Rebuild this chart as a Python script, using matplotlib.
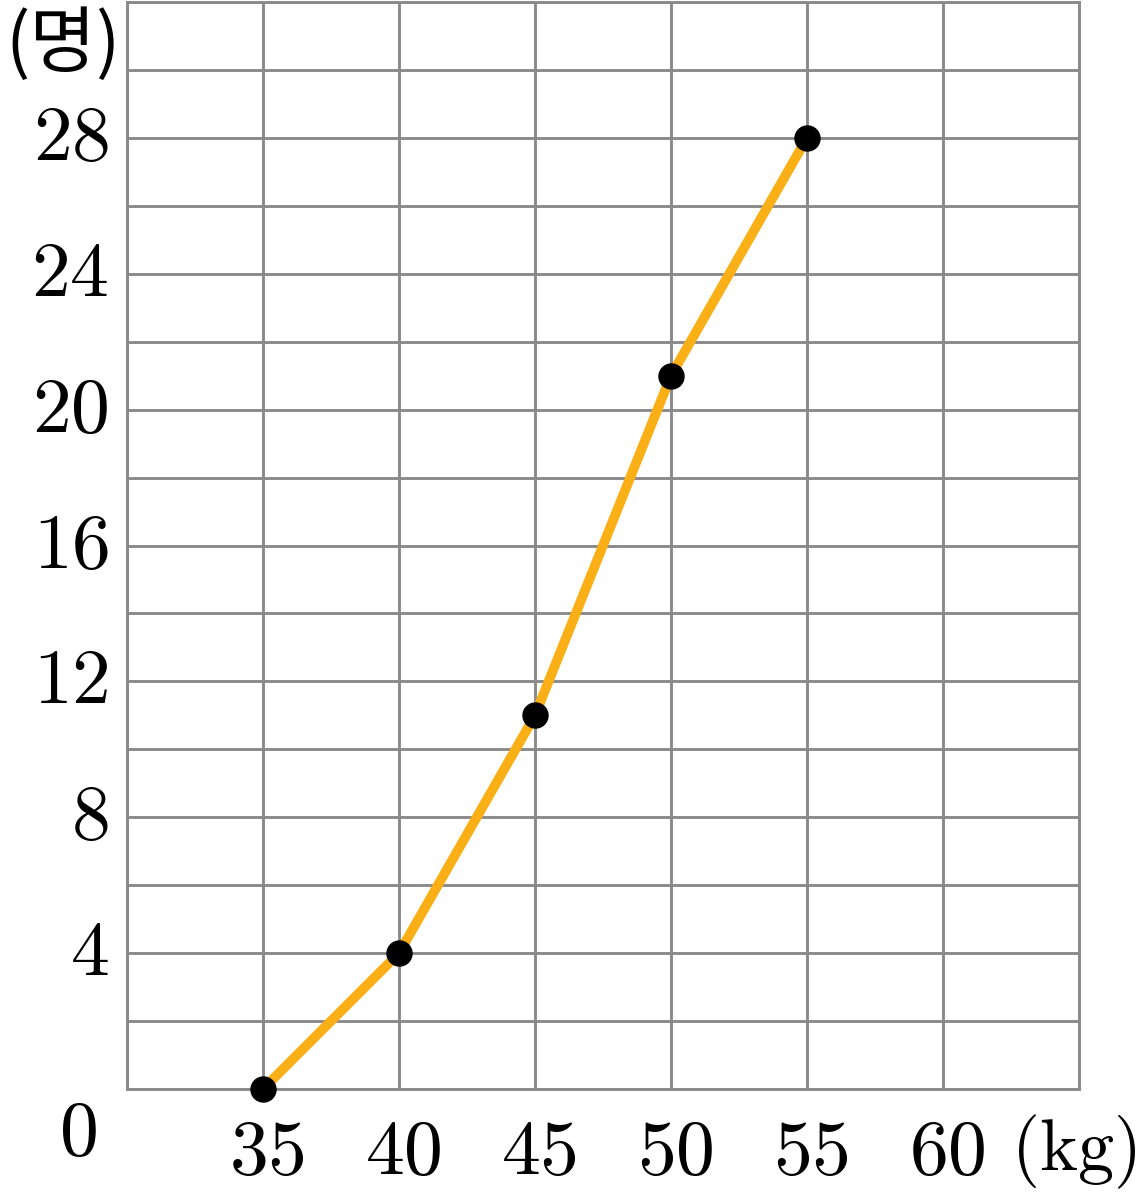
import numpy as np
import matplotlib.pyplot as plt

plt.rcParams['mathtext.fontset'] = 'cm'

weights = [35, 40, 45, 50, 55]
counts = [0, 4, 11, 21, 28]

x_labels = [35, 40, 45, 50, 55, 60]
y_labels = [4, 8, 12, 16, 20, 24, 28]

grid_color = '#8a8a8a'
line_color = '#fbaf17'

fig = plt.figure(figsize=(11.39, 12.01), dpi=100)
ax = fig.add_axes([127 / 1139, (1201 - 1089) / 1201, (1079 - 127) / 1139, (1089 - 2) / 1201])

ax.set_xlim(30, 65)
ax.set_ylim(0, 32)

# grid
for gx in np.arange(30, 66, 5):
    ax.axvline(gx, color=grid_color, lw=2.1, zorder=1)
for gy in np.arange(0, 33, 2):
    ax.axhline(gy, color=grid_color, lw=2.1, zorder=1)

for s in ax.spines.values():
    s.set_color(grid_color)
    s.set_linewidth(2.1)

ax.set_xticks([])
ax.set_yticks([])

ax.plot(weights, counts, color=line_color, lw=7, zorder=3, clip_on=False,
        solid_capstyle='butt')
ax.plot(weights, counts, 'o', color='black', ms=18, zorder=4, clip_on=False)

fs = 56
for v in x_labels:
    ax.annotate(f'${v}$', xy=(v, 0), xycoords='data', xytext=(3, -45),
                textcoords='offset points', ha='center', va='center', fontsize=fs)
for v in y_labels:
    ax.annotate(f'${v}$', xy=(30, v), xycoords='data', xytext=(-13, 0),
                textcoords='offset points', ha='right', va='center', fontsize=fs)

fig.text(78 / 1139, 1 - 1133 / 1201, '$0$', ha='center', va='center', fontsize=fs)
fig.text(1136 / 1139, 1 - 1152 / 1201, r'$(\mathrm{kg})$', ha='right', va='center', fontsize=52)
fig.text(63 / 1139, 1 - 45 / 1201, '(명)', ha='center', va='center', fontsize=52,
         family=['Noto Sans CJK KR', 'DejaVu Sans'])

fig.savefig('out.png', dpi=100)
